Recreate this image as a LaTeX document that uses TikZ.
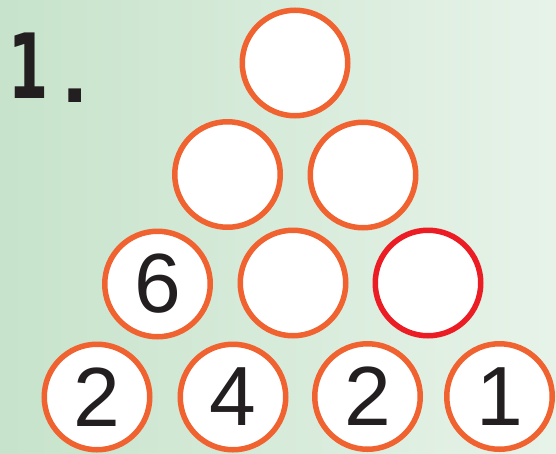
\documentclass[tikz,border=0pt]{standalone}
\usepackage{fontspec}
\setmainfont{Liberation Sans}
\newfontfamily\labelfont{DejaVu Sans}
\definecolor{ringorange}{RGB}{240,98,48}
\definecolor{ringred}{RGB}{236,28,36}
\definecolor{bgleft}{RGB}{199,227,203}
\definecolor{bgright}{RGB}{231,243,233}
\definecolor{digitblack}{RGB}{35,31,32}
\begin{document}
\begin{tikzpicture}[x=1pt,y=-1pt,
  ring/.style={circle,draw=ringorange,line width=5.5pt,fill=white,minimum size=105.5pt,inner sep=0pt,
    font=\fontsize{84}{84}\selectfont,text=digitblack},
  redring/.style={ring,draw=ringred},
  titletext/.style={font=\labelfont\bfseries\fontsize{90}{90}\selectfont,text=digitblack,inner sep=0pt}]
\useasboundingbox (0,0) rectangle (556,453);
\shade[left color=bgleft,right color=bgright] (0,0) rectangle (556,453);
\node[titletext,anchor=base,xscale=0.64] (title) at (29,98) {1};
\node[titletext,anchor=base,font=\labelfont\bfseries\fontsize{72}{72}\selectfont] (titledot) at (75,102) {.};
% row 1
\node[ring] (a1) at (295,63) {};
% row 2
\node[ring] (b1) at (227.5,174.5) {};
\node[ring] (b2) at (363,175) {};
% row 3
\node[ring] (c1) at (157.5,284) {6};
\node[ring] (c2) at (293,283) {};
\node[redring] (c3) at (428,283) {};
% row 4
\node[ring] (d1) at (97,397) {2};
\node[ring] (d2) at (233,397) {4};
\node[ring] (d3) at (367.5,396.5) {2};
\node[ring] (d4) at (499.5,396.5) {1};
\end{tikzpicture}
\end{document}
